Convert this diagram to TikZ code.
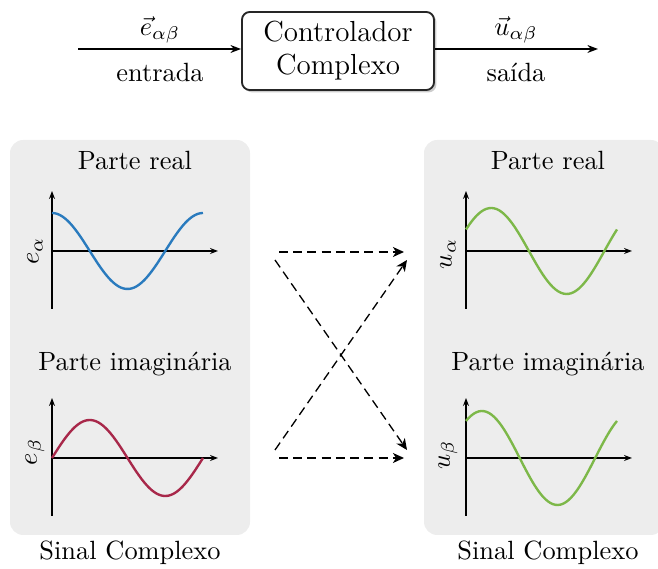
\documentclass[tikz,border=0pt]{standalone}
\usepackage{amsmath}
\usetikzlibrary{arrows.meta,positioning,shadows}
\definecolor{panelgray}{HTML}{EDEDED}
\definecolor{wavegreen}{HTML}{7DB849}
\definecolor{waveblue}{HTML}{2A7BBE}
\definecolor{wavered}{HTML}{A8284A}

\begin{document}
\begin{tikzpicture}[
    x=0.379pt, y=-0.379pt,
    >=Stealth,
    font=\normalsize,
    ctrl/.style={
        draw=black!85,
        line width=0.7pt,
        rounded corners=3pt,
        fill=white,
        minimum width=72.8pt,
        minimum height=29.6pt,
        align=center,
        font=\fontsize{11}{12.5}\selectfont,
        drop shadow={shadow xshift=0.9pt, shadow yshift=-0.9pt, opacity=0.4}
    },
    panel/.style={fill=panelgray, rounded corners=5pt},
    axis/.style={-{Stealth[length=3pt]}, line width=0.5pt},
    wave/.style={line width=0.9pt, smooth},
    arr/.style={-{Stealth[length=4pt]}, line width=0.6pt},
    link/.style={-{Stealth[length=4.2pt, width=3.8pt, inset=1.2pt]}, dash pattern=on 3.4pt off 2pt, line width=0.5pt}
]
\useasboundingbox (0,0) rectangle (658,569);

% controller
\node[ctrl] (ctrl) at (338,51) {Controlador\\Complexo};
\coordinate (in) at (78,49);
\coordinate (out) at (598,49);
\draw[arr] (in) -- (in -| ctrl.west);
\draw[arr] (ctrl.east |- out) -- (out);
\node (ein) at (160,30) {$\vec{e}_{\alpha\beta}$};
\node (entrada) at (160,72) {entrada};
\node (uout) at (516,30) {$\vec{u}_{\alpha\beta}$};
\node (saida) at (516,72) {saída};

% panels
\fill[panel] (10,140) rectangle (250,535);
\fill[panel] (424,140) rectangle (664,535);

\node (realin) at (135,160) {Parte real};
\node (imagin) at (135,364) {Parte imaginária};
\node (sigin) at (130,553) {Sinal Complexo};
\node (realout) at (548,160) {Parte real};
\node (imagout) at (548,364) {Parte imaginária};
\node (sigout) at (548,553) {Sinal Complexo};

% axes
\foreach \px/\py in {52/251, 52/458, 466/251, 466/458} {
    \draw[axis] (\px,\py+58) -- (\px,\py-60);
    \draw[axis] (\px,\py) -- (\px+166,\py);
}

\node[rotate=90] (ealpha) at (35,251) {$e_\alpha$};
\node[rotate=90] (ebeta) at (35,452) {$e_\beta$};
\node[rotate=90] (ualpha) at (448,254) {$u_\alpha$};
\node[rotate=90] (ubeta) at (448,455) {$u_\beta$};

% waves
\draw[wave, waveblue] plot[domain=0:360, samples=60] ({52+0.41944*\x},{251-38*cos(\x)});
\draw[wave, wavered] plot[domain=0:360, samples=60] ({52+0.41944*\x},{458-38*sin(\x)});
\draw[wave, wavegreen] plot[domain=0:360, samples=60] ({466+0.41944*\x},{251-43*sin(\x+30)});
\draw[wave, wavegreen] plot[domain=0:360, samples=60] ({466+0.41944*\x},{458-47*cos(\x-38)});

% links
\coordinate (lt) at (279,252);
\coordinate (rt) at (404,252);
\coordinate (lb) at (279,458);
\coordinate (rb) at (404,458);
\coordinate (ltd) at (275,260);
\coordinate (rtd) at (407,260);
\coordinate (lbd) at (275,450);
\coordinate (rbd) at (407,450);
\draw[link] (lt) -- (rt);
\draw[link] (lb) -- (rb);
\draw[link] (ltd) -- (rbd);
\draw[link] (lbd) -- (rtd);

\end{tikzpicture}
\end{document}
